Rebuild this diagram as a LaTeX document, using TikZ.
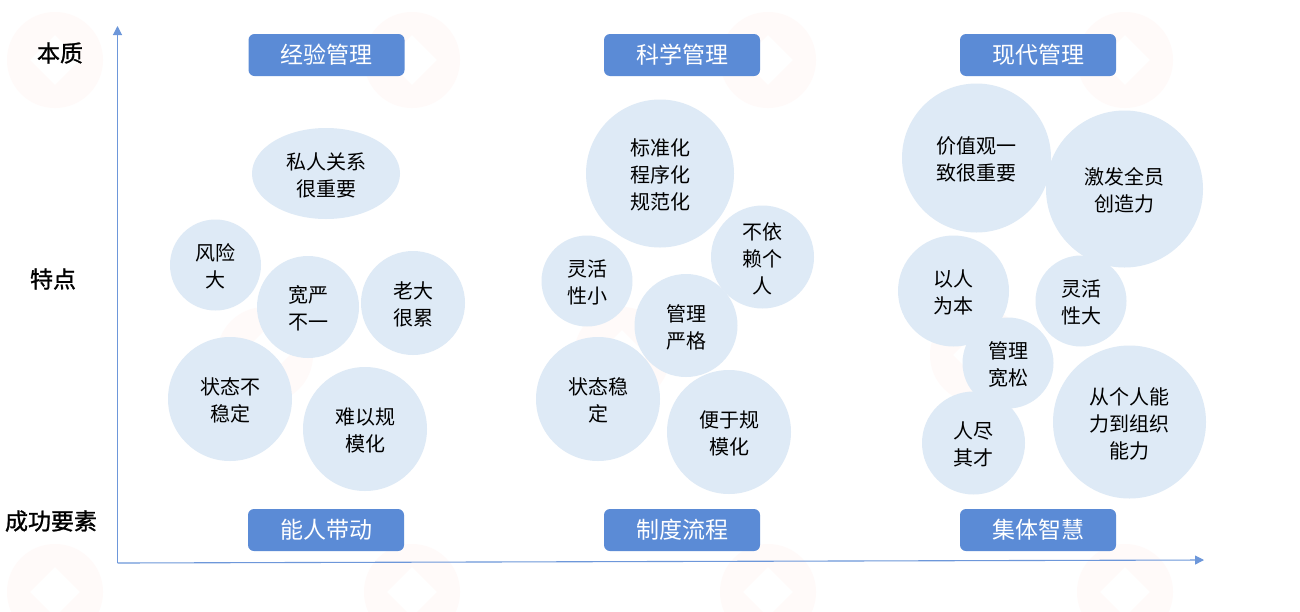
\documentclass[tikz,border=0pt]{standalone}
\usepackage{fontspec}
\setmainfont{Noto Sans CJK SC}
\newfontfamily\cjkbold[FakeBold=1.1]{Noto Sans CJK SC}
\usetikzlibrary{shapes.geometric,arrows.meta}
\newcommand{\lowertxt}{\rule{0pt}{20pt}}
\definecolor{boxblue}{HTML}{5B8BD6}
\definecolor{bubble}{HTML}{DEEAF6}
\definecolor{axisblue}{HTML}{6D97DA}
\definecolor{wmark}{HTML}{FFFAF9}
\tikzset{
  x=1pt,y=-1pt,
  bubtext/.style={font=\fontsize{20}{27}\selectfont,text=black,align=center,inner sep=0pt},
  bub/.style={circle,fill=bubble,minimum size=#1,bubtext},
  headbox/.style={rectangle,rounded corners=6pt,fill=boxblue,text=white,minimum width=156pt,minimum height=42pt,inner sep=0pt,font=\fontsize{23}{27}\selectfont},
  rowlabel/.style={font=\fontsize{23}{27}\cjkbold,text=black,inner sep=0pt},
  axisline/.style={draw=axisblue,line width=1.1pt,-{Triangle[length=9pt,width=9pt]}},
  wm/.style={circle,fill=wmark,minimum size=96pt,inner sep=0pt},
  wmd/.style={diamond,fill=white,minimum size=50pt,inner sep=0pt}
}
\begin{document}
\begin{tikzpicture}
\useasboundingbox (0,0) rectangle (1300,611);
\fill[white] (0,0) rectangle (1300,611);
% faint seal marks
\foreach \i/\px/\py in {1/55/60,2/412/60,3/768/60,4/1125/60,5/265/355,6/622/355,7/978/355,8/55/592,9/412/592,10/768/592,11/1125/592}{
  \node[wm] (wm\i) at (\px,\py) {};
  \node[wmd] (wd\i) at (\px,\py) {};
}
% axes
\coordinate (origin) at (117.5,563);
\coordinate (ytip) at (117.5,26);
\coordinate (xtip) at (1204,560);
\draw[axisline] (origin) -- (ytip);
\draw[axisline] (origin) -- (xtip);
% row labels
\node[rowlabel] (l1) at (60,53) {本质};
\node[rowlabel] (l2) at (53,279) {特点};
\node[rowlabel] (l3) at (51,521) {成功要素};
% headers
\node[headbox] (h1) at (326.5,55) {经验管理};
\node[headbox] (h2) at (682,55) {科学管理};
\node[headbox] (h3) at (1038,55) {现代管理};
\node[headbox] (f1) at (326,530) {能人带动};
\node[headbox] (f2) at (682,530) {制度流程};
\node[headbox] (f3) at (1038,530) {集体智慧};
% column 1
\node[ellipse,fill=bubble,minimum width=148pt,minimum height=91pt,bubtext] (a1) at (326,173.5) {\lowertxt 私人关系\\很重要};
\node[bub=91pt] (a2) at (215.5,265) {\lowertxt 风险\\大};
\node[bub=102pt] (a3) at (308,307) {\lowertxt 宽严\\不一};
\node[bub=104pt] (a4) at (413,303) {\lowertxt 老大\\很累};
\node[bub=124pt] (a5) at (230,399) {\lowertxt 状态不\\稳定};
\node[bub=124pt] (a6) at (365,429) {\lowertxt 难以规\\模化};
% column 2
\node[bub=148pt] (b1) at (660,173.5) {\lowertxt 标准化\\程序化\\规范化};
\node[bub=103pt] (b2) at (762.5,257) {\lowertxt 不依\\赖个\\人};
\node[bub=91pt] (b3) at (587,281) {\lowertxt 灵活\\性小};
\node[bub=103pt] (b4) at (686,325.5) {\lowertxt 管理\\严格};
\node[bub=124pt] (b5) at (598,399) {\lowertxt 状态稳\\定};
\node[bub=124pt] (b6) at (729,432) {\lowertxt 便于规\\模化};
% column 3
\node[bub=149pt] (c1) at (976.5,158) {\lowertxt 价值观一\\致很重要};
\node[bub=157pt] (c2) at (1124.5,189) {\lowertxt 激发全员\\创造力};
\node[bub=111pt] (c3) at (953.5,291) {\lowertxt 以人\\为本};
\node[bub=91pt] (c4) at (1081,301) {\lowertxt 灵活\\性大};
\node[bub=91pt] (c5) at (1008,363) {\lowertxt 管理\\宽松};
\node[bub=103pt] (c6) at (973.5,443) {\lowertxt 人尽\\其才};
\node[bub=153pt] (c7) at (1129.5,422) {\lowertxt 从个人能\\力到组织\\能力};
\end{tikzpicture}
\end{document}
